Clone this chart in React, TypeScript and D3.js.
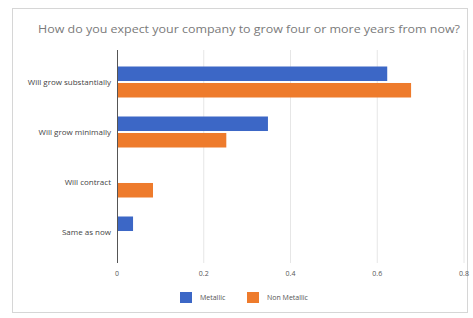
import React, { useEffect, useRef } from 'react';
import * as d3 from 'd3';

// Data
const categories = ['Will grow substantially', 'Will grow minimally', 'Will contract', 'Same as now'];
const seriesNames = ['Metallic', 'Non Metallic'];
const metallic = [0.623, 0.348, 0, 0.037];
const nonMetallic = [0.678, 0.252, 0.083, 0];
const ticks = [0, 0.2, 0.4, 0.6, 0.8];
const colors = ['#3c67c6', '#ee7b2c'];
const title = 'How do you expect your company to grow four or more years from now?';

export default function App() {
  const anchor = useRef<SVGSVGElement>(null);

  useEffect(() => {
    const svg = d3.select(anchor.current);
    svg.selectAll('*').remove();

    const font = '"Open Sans", "Liberation Sans", sans-serif';

    // Outer frame
    svg
      .append('rect')
      .attr('x', 12.5)
      .attr('y', 8.5)
      .attr('width', 455)
      .attr('height', 304)
      .attr('fill', '#fff')
      .attr('stroke', '#d6d6d6');

    // Title
    svg
      .append('text')
      .attr('x', 38)
      .attr('y', 33)
      .attr('textLength', 422)
      .attr('lengthAdjust', 'spacingAndGlyphs')
      .style('font-family', font)
      .style('font-size', '11px')
      .style('fill', '#7a7a7a')
      .text(title);

    // Scales
    const xScale = d3.scaleLinear().domain([0, 0.8]).range([117, 464]);

    const yScale = d3
      .scaleBand()
      .domain(categories)
      .range([57, 257])
      .paddingInner(0.38)
      .paddingOuter(0.19);

    const inner = d3
      .scaleBand()
      .domain(seriesNames)
      .range([0, yScale.bandwidth()])
      .paddingInner(0.12);

    // Grid lines
    svg
      .append('g')
      .selectAll('line')
      .data(ticks.slice(1))
      .enter()
      .append('line')
      .attr('x1', d => xScale(d))
      .attr('x2', d => xScale(d))
      .attr('y1', 50)
      .attr('y2', 263)
      .attr('stroke', '#e6e6e6');

    // Bars
    const rows = categories.map((c, i) => ({ c, values: [metallic[i], nonMetallic[i]] }));
    const groups = svg
      .append('g')
      .selectAll('g')
      .data(rows)
      .enter()
      .append('g')
      .attr('transform', d => `translate(0,${yScale(d.c)})`);

    groups
      .selectAll('rect')
      .data(d => d.values.map((v, j) => ({ v, s: seriesNames[j], j })))
      .enter()
      .append('rect')
      .attr('x', xScale(0))
      .attr('y', d => inner(d.s) as number)
      .attr('width', d => xScale(d.v) - xScale(0))
      .attr('height', inner.bandwidth())
      .attr('fill', d => colors[d.j]);

    // Axis line
    svg
      .append('line')
      .attr('x1', 117.5)
      .attr('x2', 117.5)
      .attr('y1', 50)
      .attr('y2', 263)
      .attr('stroke', '#555');

    // Category labels
    svg
      .append('g')
      .selectAll('text')
      .data(categories)
      .enter()
      .append('text')
      .attr('x', 111)
      .attr('y', d => (yScale(d) as number) + yScale.bandwidth() / 2)
      .attr('dy', '0.35em')
      .attr('text-anchor', 'end')
      .style('font-family', font)
      .style('font-size', '8px')
      .style('fill', '#444')
      .text(d => d);

    // Tick labels
    svg
      .append('g')
      .selectAll('text')
      .data(ticks)
      .enter()
      .append('text')
      .attr('x', d => xScale(d))
      .attr('y', 276)
      .attr('text-anchor', 'middle')
      .style('font-family', font)
      .style('font-size', '7px')
      .style('fill', '#555')
      .text(d => (d === 0 ? '0' : d3.format('.1f')(d)));

    // Legend
    const legendX = [180, 247];
    const legend = svg
      .append('g')
      .selectAll('g')
      .data(seriesNames)
      .enter()
      .append('g')
      .attr('transform', (d, i) => `translate(${legendX[i]},292)`);

    legend
      .append('rect')
      .attr('width', 12)
      .attr('height', 11)
      .attr('fill', (d, i) => colors[i]);

    legend
      .append('text')
      .attr('x', 20)
      .attr('y', 5.5)
      .attr('dy', '0.35em')
      .style('font-family', font)
      .style('font-size', '7px')
      .style('fill', '#555')
      .text(d => d);
  }, []);

  return (
    <svg
      ref={anchor}
      width={473}
      height={318}
      style={{ position: 'absolute', left: 0, top: 0, background: '#fff' }}
    />
  );
}
